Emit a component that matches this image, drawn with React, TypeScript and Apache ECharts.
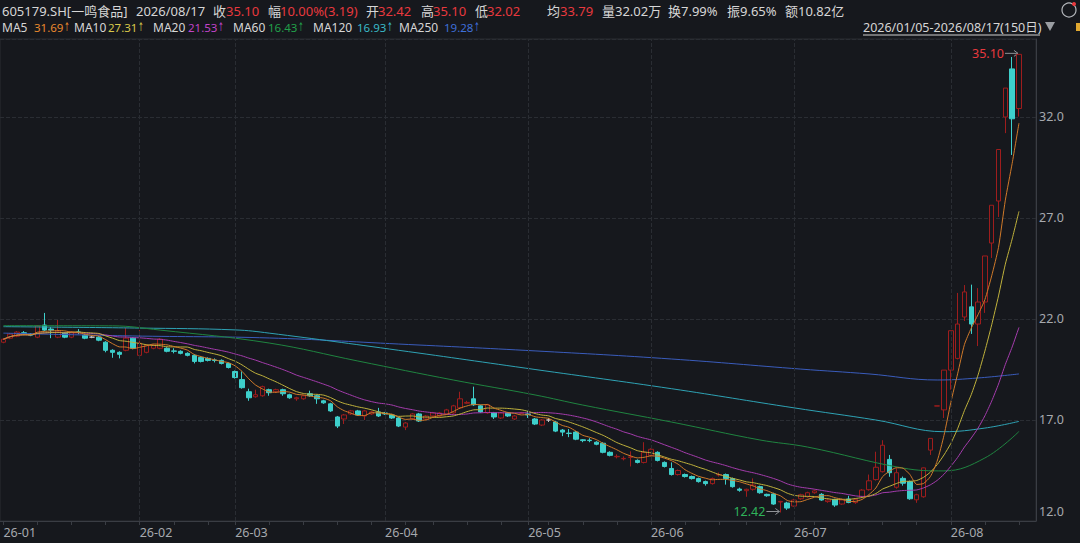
import React, { useEffect, useRef } from "react";
import * as echarts from "echarts";

// ---- categories: trading days 2026-01-05 .. 2026-08-17 (150 days) ----
const HOLIDAYS = [
  "2026-02-16", "2026-02-17", "2026-02-18", "2026-02-19", "2026-02-20", "2026-02-23",
  "2026-04-06", "2026-05-01", "2026-05-04", "2026-05-05", "2026-06-19",
];
const FIRST_DAY = "2026-01-05";
const LAST_DAY = "2026-08-17";
const PAD_SLOTS = 2; // empty slots right of last candle

function buildDays(): string[] {
  const out: string[] = [];
  const [y0, m0, d0] = FIRST_DAY.split("-").map(Number);
  const [y1, m1, d1] = LAST_DAY.split("-").map(Number);
  let t = Date.UTC(y0, m0 - 1, d0);
  const end = Date.UTC(y1, m1 - 1, d1);
  while (t <= end) {
    const d = new Date(t);
    const s = d.toISOString().slice(0, 10);
    const wd = d.getUTCDay();
    if (wd !== 0 && wd !== 6 && !HOLIDAYS.includes(s)) out.push(s);
    t += 86400000;
  }
  return out;
}

// ---- candles: [open, close, low, high] ----
const candles: number[][] = [
  [20.85, 21.0, 20.8, 21.05], [21.05, 21.25, 21.0, 21.3], [21.15, 21.35, 21.1, 21.4], [21.32, 21.28, 21.2, 21.4],
  [21.25, 21.2, 21.15, 21.3], [21.1, 21.65, 21.05, 21.7], [21.7, 21.45, 21.4, 22.3], [21.5, 21.45, 21.05, 21.6],
  [21.1, 21.4, 21.05, 21.95], [21.3, 21.1, 21.05, 21.35], [21.1, 21.35, 21.05, 21.4], [21.36, 21.33, 21.25, 21.5],
  [21.2, 21.05, 21.0, 21.25], [21.1, 21.1, 21.05, 21.15], [21.1, 20.95, 20.9, 21.15], [20.85, 20.45, 20.35, 20.9],
  [20.45, 20.35, 20.08, 20.5], [20.35, 20.25, 20.05, 20.4], [20.45, 21.05, 20.4, 21.55], [21.05, 20.55, 20.5, 21.1],
  [20.2, 20.8, 20.15, 21.45], [20.35, 20.7, 20.3, 20.75], [20.55, 20.7, 20.5, 20.75], [20.55, 21.0, 20.5, 21.05],
  [20.55, 20.4, 20.35, 20.6], [20.42, 20.4, 20.3, 20.55], [20.4, 20.3, 20.25, 20.45], [20.3, 20.2, 20.15, 20.35],
  [20.2, 19.9, 19.8, 20.25], [20.1, 19.9, 19.85, 20.15], [20.05, 19.95, 19.9, 20.1], [19.97, 19.95, 19.85, 20.05],
  [19.95, 19.8, 19.75, 20.0], [19.8, 19.6, 19.55, 19.85], [19.4, 19.1, 19.05, 19.45], [19.0, 18.6, 18.55, 19.4],
  [18.4, 18.1, 17.95, 18.55], [18.15, 18.25, 18.1, 18.5], [18.2, 18.65, 18.15, 18.7], [18.5, 18.35, 18.2, 18.55],
  [18.4, 18.5, 18.35, 18.55], [18.5, 18.3, 18.2, 18.55], [18.25, 18.1, 18.05, 18.3], [18.05, 18.1, 17.95, 18.15],
  [18.05, 18.2, 18.0, 18.25], [18.3, 18.2, 18.15, 18.45], [18.2, 18.05, 17.8, 18.25], [17.95, 17.85, 17.8, 18.0],
  [17.8, 17.45, 17.4, 17.85], [17.15, 16.7, 16.6, 17.2], [17.05, 17.25, 16.8, 17.3], [17.3, 17.45, 17.25, 17.5],
  [17.45, 17.25, 17.2, 17.5], [17.2, 17.45, 17.0, 17.5], [17.3, 17.4, 17.25, 17.45], [17.4, 17.2, 17.15, 17.6],
  [17.35, 17.3, 17.25, 17.4], [17.25, 17.1, 17.05, 17.3], [17.1, 16.7, 16.65, 17.15], [16.65, 16.85, 16.5, 16.9],
  [17.05, 17.3, 17.0, 17.35], [17.3, 16.95, 16.9, 17.35], [17.05, 17.2, 17.0, 17.25], [17.2, 17.35, 17.15, 17.4],
  [17.2, 17.35, 17.15, 17.4], [17.3, 17.5, 17.25, 17.55], [17.35, 17.7, 17.3, 17.75], [17.6, 18.05, 17.55, 18.4],
  [17.83, 17.87, 17.8, 17.95], [18.05, 17.75, 17.7, 18.65], [17.7, 17.4, 17.35, 17.75], [17.35, 17.75, 17.3, 17.8],
  [17.35, 17.15, 17.05, 17.4], [17.1, 17.35, 17.05, 17.4], [17.35, 17.2, 17.15, 17.4], [17.05, 17.2, 17.0, 17.25],
  [17.33, 17.35, 17.3, 17.4], [17.3, 17.25, 17.1, 17.45], [17.05, 16.8, 16.75, 17.1], [16.75, 17.0, 16.7, 17.05],
  [17.0, 17.0, 16.9, 17.1], [16.9, 16.45, 16.4, 16.95], [16.5, 16.4, 16.2, 16.55], [16.35, 16.33, 16.15, 16.55],
  [16.4, 16.05, 16.0, 16.45], [16.02, 15.98, 15.9, 16.05], [16.0, 15.98, 15.9, 16.1], [15.9, 15.8, 15.75, 15.95],
  [15.85, 15.4, 15.35, 15.9], [15.4, 15.25, 15.2, 15.45], [15.18, 15.2, 15.1, 15.3], [15.08, 15.1, 15.0, 15.2],
  [15.15, 15.17, 14.7, 15.45], [15.0, 14.9, 14.85, 15.05], [14.9, 15.4, 14.85, 15.9], [15.25, 15.55, 15.2, 15.6],
  [15.4, 15.0, 14.95, 15.45], [14.9, 14.7, 14.65, 14.95], [14.6, 14.3, 14.25, 14.9], [14.3, 14.5, 14.25, 14.55],
  [14.3, 14.2, 14.15, 14.35], [14.2, 14.1, 14.05, 14.25], [14.1, 13.95, 13.9, 14.15], [13.95, 13.85, 13.75, 14.0],
  [13.85, 14.1, 13.8, 14.15], [14.28, 14.3, 14.2, 14.4], [14.3, 14.1, 13.8, 14.35], [14.1, 13.7, 13.65, 14.15],
  [13.58, 13.52, 13.45, 13.65], [13.5, 13.57, 13.2, 13.6], [13.57, 13.78, 13.5, 14.11], [13.7, 13.4, 13.35, 13.75],
  [13.32, 13.25, 13.2, 13.35], [13.34, 12.84, 12.8, 13.4], [12.94, 12.97, 12.42, 13.0], [12.89, 12.64, 12.55, 12.95],
  [12.74, 13.04, 12.7, 13.1], [13.1, 13.3, 13.05, 13.35], [13.2, 13.4, 13.15, 13.45], [13.4, 13.49, 13.35, 13.55],
  [13.32, 13.04, 13.0, 13.38], [12.96, 13.04, 12.9, 13.08], [13.07, 12.79, 12.7, 13.1], [12.84, 13.04, 12.8, 13.1],
  [13.09, 12.92, 12.88, 13.25], [12.91, 13.07, 12.85, 13.1], [13.2, 13.53, 13.15, 13.58], [13.55, 13.99, 13.5, 14.3],
  [14.05, 14.66, 14.0, 15.43], [14.44, 15.75, 14.4, 16.0], [15.05, 14.39, 14.19, 15.27], [13.67, 14.39, 13.6, 14.61],
  [14.11, 13.87, 13.75, 14.2], [13.95, 13.1, 13.05, 14.0], [13.05, 13.3, 12.9, 13.35], [13.2, 14.63, 13.15, 14.65],
  [15.51, 16.09, 15.27, 16.09], [17.69, 17.7, 17.69, 17.7], [17.5, 19.47, 17.1, 19.47], [19.47, 21.42, 18.5, 21.42],
  [20.05, 21.75, 20.0, 23.29], [22.1, 23.34, 21.9, 23.68], [22.6, 21.75, 21.26, 23.7], [21.75, 22.84, 20.66, 23.53],
  [22.84, 25.12, 22.3, 25.12], [25.76, 27.63, 25.02, 27.63], [27.84, 30.39, 27.05, 30.39], [32.0, 33.43, 31.2, 33.43],
  [34.38, 31.91, 30.12, 34.97], [32.42, 35.1, 32.02, 35.1],
];

// ---- long moving averages at sample days ----
const ma60Idx = [0, 16, 23, 39, 52, 66, 78, 85, 98, 111, 118, 132, 138, 144, 149];
const ma60Val = [21.67, 21.66, 21.45, 20.81, 19.92, 18.98, 18.24, 17.74, 16.9, 16.01, 15.66, 14.62, 14.48, 15.12, 16.43];
const ma120Idx = [0, 20, 34, 39, 58, 78, 98, 116, 128, 138, 144, 149];
const ma120Val = [21.62, 21.55, 21.46, 21.3, 20.45, 19.5, 18.55, 17.6, 17.0, 16.42, 16.6, 16.93];
const ma250Idx = [0, 19, 39, 58, 78, 98, 117, 127, 137, 143, 149];
const ma250Val = [21.3, 21.16, 21.06, 20.76, 20.42, 20.02, 19.52, 19.28, 18.98, 19.08, 19.28];

// ---- y axis ----
const Y_MIN = 12;
const Y_MAX = 35.86;
const Y_STEP = 5;

// ---- texts ----
const FONT = '"Noto Sans", "Noto Sans CJK SC", sans-serif';
const WHITE = "#d6d6d6";
const RED = "#e8393e";
const headerRow1: [string, number, string][] = [
  ["605179.SH[一鸣食品]", 2, WHITE], ["2026/08/17", 136, WHITE],
  ["收", 213, WHITE], ["35.10", 226, RED], ["幅", 268, WHITE], ["10.00%(3.19)", 280, RED],
  ["开", 366, WHITE], ["32.42", 378, RED], ["高", 421, WHITE], ["35.10", 433, RED],
  ["低", 475, WHITE], ["32.02", 487, RED], ["均", 547, WHITE], ["33.79", 560, RED],
  ["量32.02万", 602, WHITE], ["换7.99%", 668, WHITE], ["振9.65%", 727, WHITE], ["额10.82亿", 785, WHITE],
];
const MA_COLORS = ["#e8892e", "#d8c84a", "#c044c8", "#22a04a", "#3ab8c8", "#3f6fd8"];
const LINE_COLORS = ["#d07a2a", "#c0b23c", "#a53cad", "#1f8440", "#2ea2b4", "#3a5cbc"];
const maNames = ["MA5", "MA10", "MA20", "MA60", "MA120", "MA250"];
const maNameX = [2, 74, 153, 233, 313, 399];
const maValueText = ["31.69", "27.31", "21.53", "16.43", "16.93", "19.28"];
const maValueX = [34, 108, 188, 268, 357, 444];
const RANGE_TEXT = "2026/01/05-2026/08/17(150日)";

const BG = "#16181d";
const GRID_LINE = "#2a2d33";
const AXIS_LINE = "#3a3d44";
const AXIS_TEXT = "#a6a9ae";
const UP = "#9e1d1d";
const DOWN = "#3ecfcb";

const VALUE_SIZE = 11.5;

export default function App() {
  const ref = useRef<HTMLDivElement>(null);

  useEffect(() => {
    if (!ref.current) return;
    const chart = echarts.init(ref.current, null, { renderer: "svg" });

    const days = buildDays();
    const cats = days.concat(Array.from({ length: PAD_SLOTS }, () => ""));
    const closes = candles.map((c) => c[1]);
    const movingAvg = (n: number) =>
      closes.map((_, i) => {
        const s = Math.max(0, i - n + 1);
        let sum = 0;
        for (let k = s; k <= i; k++) sum += closes[k];
        return +(sum / (i - s + 1)).toFixed(3);
      });

    const monthStart = new Set<number>();
    const weekStart = new Set<number>();
    days.forEach((d, i) => {
      if (i === 0 || d.slice(5, 7) !== days[i - 1].slice(5, 7)) monthStart.add(i);
      if (i === 0) weekStart.add(i);
      else {
        const a = new Date(d + "T00:00:00Z");
        const b = new Date(days[i - 1] + "T00:00:00Z");
        if (a.getUTCDay() <= b.getUTCDay() || a.getTime() - b.getTime() > 6 * 86400000) weekStart.add(i);
      }
    });

    const pairs = (idx: number[], val: number[]) => idx.map((x, k) => [x, val[k]]);

    const lineSeries = (name: string, data: any[], color: string, smooth: number | boolean) => ({
      name,
      type: "line",
      data,
      showSymbol: false,
      symbol: "none",
      smooth,
      silent: true,
      lineStyle: { color, width: 1 },
      emphasis: { disabled: true },
      z: 3,
    });

    const option: any = {
      animation: false,
      backgroundColor: BG,
      grid: {
        left: 0,
        top: 39,
        width: 1036,
        height: 482,
        show: true,
        backgroundColor: "transparent",
        borderColor: GRID_LINE,
        borderWidth: 1,
      },
      xAxis: {
        type: "category",
        data: cats,
        boundaryGap: true,
        axisLine: { show: true, lineStyle: { color: AXIS_LINE } },
        axisTick: {
          show: true,
          alignWithLabel: true,
          length: 4,
          interval: (i: number) => weekStart.has(i),
          lineStyle: { color: AXIS_LINE },
        },
        axisLabel: {
          interval: (i: number) => monthStart.has(i),
          formatter: (v: string) => (v ? v.slice(2, 7) : ""),
          align: "left",
          margin: 5,
          color: AXIS_TEXT,
          fontSize: 12.5,
          fontFamily: FONT,
        },
        splitLine: { show: false },
      },
      yAxis: {
        type: "value",
        position: "right",
        min: Y_MIN,
        max: Y_MAX,
        interval: Y_STEP,
        axisLine: { show: true, lineStyle: { color: AXIS_LINE } },
        axisTick: { show: false },
        axisLabel: {
          showMaxLabel: false,
          margin: 3,
          color: AXIS_TEXT,
          fontSize: 12.5,
          fontFamily: FONT,
          formatter: (v: number) => (v === Y_MIN ? "{lo|" + v.toFixed(1) + "}" : v.toFixed(1)),
          rich: { lo: { padding: [0, 0, 20, 0], color: AXIS_TEXT, fontSize: 12.5, fontFamily: FONT } },
        },
        splitLine: { show: true, lineStyle: { color: GRID_LINE, type: "dashed" } },
      },
      series: [
        {
          name: "K",
          type: "candlestick",
          data: candles,
          barWidth: 5,
          silent: true,
          emphasis: { disabled: true },
          itemStyle: {
            color: BG,
            color0: DOWN,
            borderColor: UP,
            borderColor0: DOWN,
            borderColorDoji: "#c4c4c4",
            borderWidth: 1,
          },
          markLine: {
            silent: true,
            symbol: ["none", "none"],
            label: { show: false },
            emphasis: { disabled: true },
            lineStyle: { color: GRID_LINE, type: "dashed", width: 1 },
            data: Array.from(monthStart).filter((i) => i > 0).map((i) => ({ xAxis: days[i] })),
          },
          z: 2,
        },
        lineSeries("MA250", pairs(ma250Idx, ma250Val), LINE_COLORS[5], 0.4),
        lineSeries("MA120", pairs(ma120Idx, ma120Val), LINE_COLORS[4], 0.4),
        lineSeries("MA60", pairs(ma60Idx, ma60Val), LINE_COLORS[3], 0.4),
        lineSeries("MA20", movingAvg(20), LINE_COLORS[2], 0.2),
        lineSeries("MA10", movingAvg(10), LINE_COLORS[1], 0.2),
        lineSeries("MA5", movingAvg(5), LINE_COLORS[0], 0.2),
      ],
    };
    chart.setOption(option);

    // extreme markers placed through the chart's own scales
    let hiIdx = 0;
    let loIdx = 0;
    candles.forEach((c, i) => {
      if (c[3] > candles[hiIdx][3]) hiIdx = i;
      if (c[2] < candles[loIdx][2]) loIdx = i;
    });
    const hiVal = candles[hiIdx][3];
    const loVal = candles[loIdx][2];
    const pHi = chart.convertToPixel({ xAxisIndex: 0, yAxisIndex: 0 }, [hiIdx, hiVal]) as number[];
    const pLo = chart.convertToPixel({ xAxisIndex: 0, yAxisIndex: 0 }, [loIdx, loVal]) as number[];

    const marker = (p: number[], dy: number, label: string, color: string) => {
      const y = p[1] + dy;
      return [
        {
          type: "text",
          x: p[0] - 15,
          y,
          silent: true,
          style: { text: label, fill: color, fontSize: 12.5, fontFamily: FONT, align: "right", verticalAlign: "middle" },
        },
        { type: "line", silent: true, shape: { x1: p[0] - 14, y1: y, x2: p[0] - 1, y2: y }, style: { stroke: "#8f9297", lineWidth: 1 } },
        {
          type: "polyline",
          silent: true,
          shape: { points: [[p[0] - 5, y - 3], [p[0] - 1, y], [p[0] - 5, y + 3]] },
          style: { stroke: "#8f9297", lineWidth: 1, fill: "none" },
        },
      ];
    };

    const txt = (t: string, x: number, y: number, color: string, size = 12.5) => ({
      type: "text",
      x,
      y,
      silent: true,
      style: { text: t, fill: color, fontSize: size, fontFamily: FONT, verticalAlign: "middle" },
    });

    const measure = (t: string, size: number) => {
      try {
        const el = new (echarts.graphic as any).Text({ style: { text: t, fontSize: size, fontFamily: FONT } });
        return el.getBoundingRect().width as number;
      } catch (e) {
        return t.length * size * 0.55;
      }
    };

    const graphic: any[] = [
      ...headerRow1.map(([t, x, c]) => txt(t, x, 11, c, 13)),
      ...maNames.map((t, k) => txt(t, maNameX[k], 27, WHITE, 12)),
      ...maValueText.map((t, k) => txt(t, maValueX[k], 27, MA_COLORS[k], VALUE_SIZE)),
      ...maValueText.map((t, k) => ({
        type: "text",
        x: maValueX[k] + measure(t, VALUE_SIZE) + 0.5,
        y: 27,
        scaleX: 0.55,
        silent: true,
        style: { text: "↑", fill: MA_COLORS[k], fontSize: 12, fontFamily: '"DejaVu Sans", sans-serif', verticalAlign: "middle" },
      })),
      txt(RANGE_TEXT, 863, 27, WHITE),
      { type: "line", silent: true, shape: { x1: 863, y1: 35, x2: 1040, y2: 35 }, style: { stroke: "#cfcfcf", lineWidth: 1 } },
      { type: "polygon", silent: true, shape: { points: [[1045, 22], [1055, 22], [1050, 31]] }, style: { fill: "#9a9da2" } },
      { type: "circle", silent: true, shape: { cx: 1069, cy: 10, r: 7 }, style: { stroke: "#b5b8bd", fill: "none", lineWidth: 1.2 } },
      { type: "circle", silent: true, shape: { cx: 1074, cy: 4, r: 2 }, style: { fill: "#e8393e" } },
      { type: "rect", silent: true, shape: { x: 1076, y: 23, width: 5, height: 8 }, style: { fill: "#e0a830" } },
      ...marker(pHi, -1, hiVal.toFixed(2), RED),
      ...marker(pLo, -1, loVal.toFixed(2), "#2fb35a"),
    ];
    chart.setOption({ graphic });

    return () => chart.dispose();
  }, []);

  return (
    <div
      ref={ref}
      style={{ position: "fixed", left: 0, top: 0, width: 1080, height: 543, background: BG }}
    />
  );
}
